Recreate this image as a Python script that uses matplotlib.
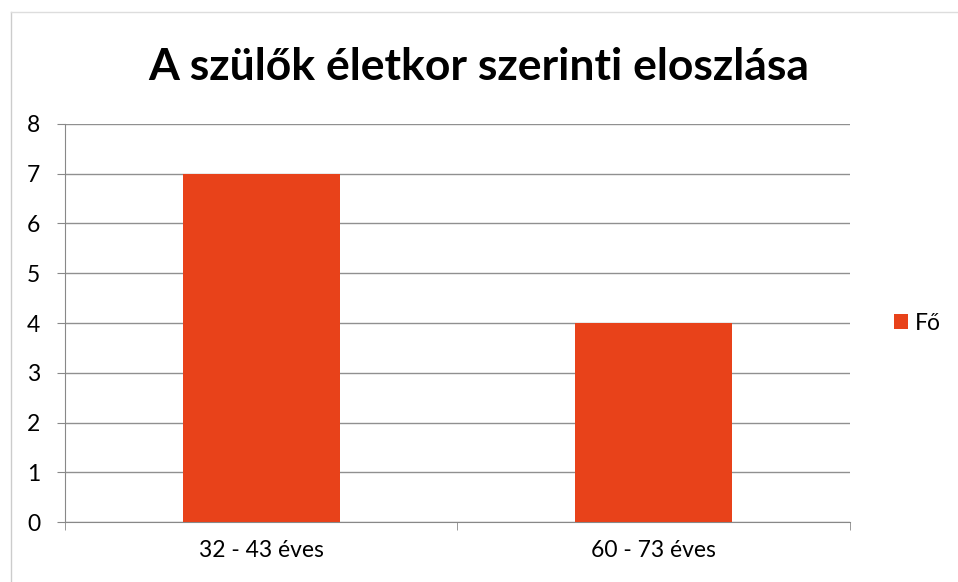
import matplotlib.pyplot as plt
from matplotlib.lines import Line2D

# data
categories = ["32 - 43 éves", "60 - 73 éves"]
values = [7, 4]
series_name = "Fő"
title = "A szülők életkor szerinti eloszlása"

plt.rcParams['font.family'] = ['Lato', 'DejaVu Sans']

fig = plt.figure(figsize=(9.58, 5.82), dpi=100)
ax = fig.add_axes([0.068, 0.103, 0.819, 0.684])

bar_color = "#E8421A"
x = list(range(len(categories)))
ax.bar(x, values, width=0.4, color=bar_color, label=series_name, zorder=3)

ax.set_xlim(-0.5, len(categories) - 0.5)
ax.set_ylim(0, 8)
ax.set_yticks(range(0, 9))
ax.set_xticks(x)
ax.set_xticklabels(categories, fontsize=16.5)
ax.tick_params(axis='y', labelsize=16.5, length=6, color="#888888", pad=12)
ax.tick_params(axis='x', length=0, pad=13)
# category separator ticks
ax.set_xticks([-0.5, 0.5, 1.5], minor=True)
ax.tick_params(axis='x', which='minor', length=6, color="#888888")

ax.grid(axis='y', color="#909090", linewidth=1, zorder=0)
for s in ['top', 'right']:
    ax.spines[s].set_visible(False)
ax.spines['left'].set_color("#888888")
ax.spines['bottom'].set_color("#888888")

fig.text(0.5, 0.885, title, ha='center', va='center', fontsize=32, fontweight='bold')

ax.legend(loc='center left', bbox_to_anchor=(1.03, 0.5), frameon=False,
          fontsize=16.5, handlelength=0.6, handleheight=0.6, handletextpad=0.3)

# chart border (left and top visible)
fig.add_artist(Line2D([0.011, 0.011], [0.0, 0.98], color="#cccccc", lw=1))
fig.add_artist(Line2D([0.011, 1.0], [0.98, 0.98], color="#dddddd", lw=1))

fig.savefig("out.png", dpi=100)
